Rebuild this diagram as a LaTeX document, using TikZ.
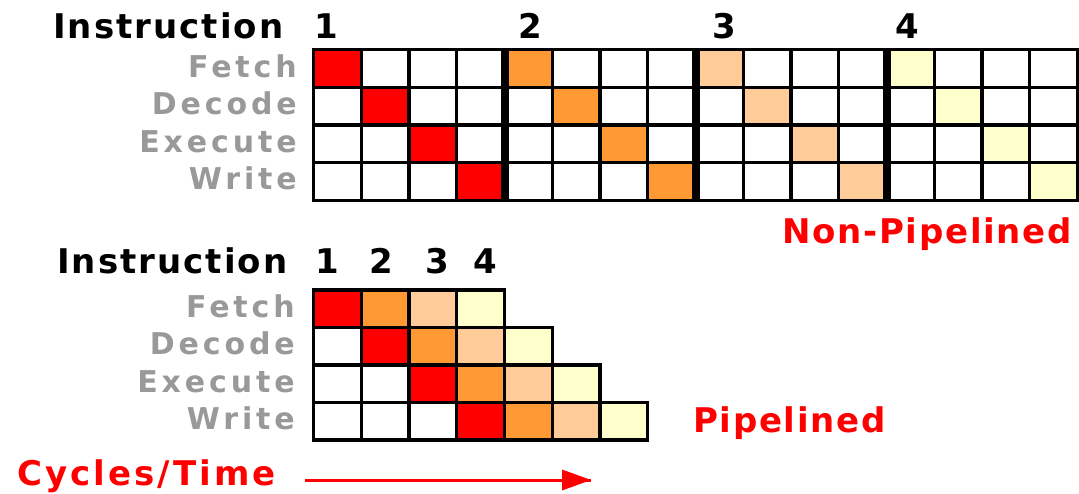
\documentclass[tikz,border=0pt]{standalone}
\usepackage{fontspec}
\usetikzlibrary{calc}
\newfontfamily\instrfont[LetterSpace=6]{DejaVu Sans Bold}
\newfontfamily\lblfont[LetterSpace=13]{DejaVu Sans Bold}
\newfontfamily\redfont[LetterSpace=5]{DejaVu Sans Bold}
\newfontfamily\cycfont[LetterSpace=9]{DejaVu Sans Bold}
\definecolor{cA}{HTML}{FF0000}
\definecolor{cB}{HTML}{FF9933}
\definecolor{cC}{HTML}{FFCC99}
\definecolor{cD}{HTML}{FFFFCC}
\definecolor{lblgray}{HTML}{999999}
\tikzset{
  instr/.style={inner sep=0pt, font=\instrfont\fontsize{34}{40}\selectfont, text=black},
  lbl/.style={inner sep=0pt, anchor=base east, font=\lblfont\fontsize{30}{36}\selectfont, text=lblgray},
  redlbl/.style={inner sep=0pt, font=\redfont\fontsize{34}{40}\selectfont, text=cA},
  cell/.style={draw=black, line width=3.2pt},
  sep/.style={draw=black, line width=8pt},
}
\begin{document}
\begin{tikzpicture}[x=1pt,y=-1pt]
\useasboundingbox (0,0) rectangle (1079,493);
\fill[white] (0,0) rectangle (1079,493);

% ---------- Non-pipelined grid ----------
\def\tx{313.5}\def\ty{49.5}\def\cw{47.75}\def\th{37.75}
\foreach \r in {0,...,3}{
  \foreach \c in {0,...,15}{
    \draw[cell, fill=white] ({\tx+\c*\cw},{\ty+\r*\th}) rectangle ++(\cw,\th);
  }
}
\foreach \col/\i in {cA/0,cB/1,cC/2,cD/3}{
  \foreach \s in {0,...,3}{
    \draw[cell, fill=\col] ({\tx+(4*\i+\s)*\cw},{\ty+\s*\th}) rectangle ++(\cw,\th);
  }
}
\foreach \k in {4,8,12}{
  \draw[sep] ({\tx+\k*\cw},{\ty-1.6}) -- ({\tx+\k*\cw},{\ty+4*\th+1.6});
}

% ---------- Pipelined grid ----------
\def\by{290}\def\bh{37.5}
\foreach \s in {0,...,3}{
  \pgfmathtruncatemacro{\last}{3+\s}
  \foreach \c in {0,...,\last}{
    \draw[cell, fill=white] ({\tx+\c*\cw},{\by+\s*\bh}) rectangle ++(\cw,\bh);
  }
}
\foreach \col/\i in {cA/0,cB/1,cC/2,cD/3}{
  \foreach \s in {0,...,3}{
    \draw[cell, fill=\col] ({\tx+(\i+\s)*\cw},{\by+\s*\bh}) rectangle ++(\cw,\bh);
  }
}

% ---------- Texts ----------
\node[instr, anchor=base west] (insA) at (53,38) {Instruction};
\node[instr, anchor=base] (tA) at (326,38) {1};
\node[instr, anchor=base] (tB) at (530,38) {2};
\node[instr, anchor=base] (tC) at (724,38) {3};
\node[instr, anchor=base] (tD) at (907,38) {4};

\node[lbl] (fA) at (297,77) {Fetch};
\node[lbl] (dA) at (297,114.5) {Decode};
\node[lbl] (eA) at (297,152) {Execute};
\node[lbl] (wA) at (297,189.5) {Write};

\node[redlbl, anchor=base east] (np) at (1072,243) {Non-Pipelined};

\node[instr, anchor=base west] (insB) at (57,273) {Instruction};
\node[instr, anchor=base] (bA) at (327,273) {1};
\node[instr, anchor=base] (bB) at (381,273) {2};
\node[instr, anchor=base] (bC) at (437,273) {3};
\node[instr, anchor=base] (bD) at (485,273) {4};

\node[lbl] (fB) at (295,317) {Fetch};
\node[lbl] (dB) at (295,354.5) {Decode};
\node[lbl] (eB) at (295,392) {Execute};
\node[lbl] (wB) at (295,429.5) {Write};

\node[redlbl, anchor=base west] (pl) at (693,432) {Pipelined};

\node[redlbl, anchor=base west, font=\cycfont\fontsize{34}{40}\selectfont] (cyc) at (17,485) {Cycles/Time};

% ---------- Time arrow ----------
\coordinate (ts) at (305,480);
\coordinate (tb) at (562,480);
\coordinate (te) at (591,480);
\draw[cA, line width=3pt] (ts) -- (te);
\fill[cA] ($(tb)+(0,-10.5)$) -- (te) -- ($(tb)+(0,10.5)$) -- cycle;
\end{tikzpicture}
\end{document}
